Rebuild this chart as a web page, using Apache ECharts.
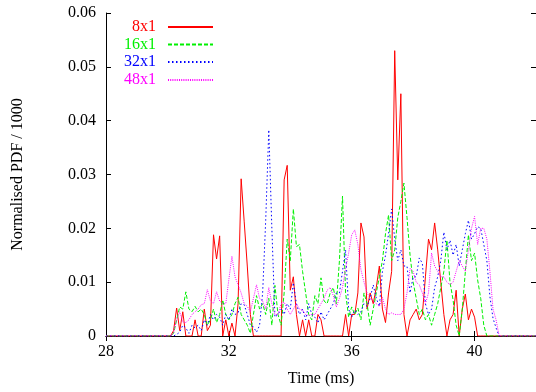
<!DOCTYPE html>
<html>
<head>
<meta charset="utf-8">
<script src="https://cdn.jsdelivr.net/npm/echarts@6/dist/echarts.min.js"></script>
<style>
html,body{margin:0;padding:0;background:#fff;}
#chart{width:536px;height:392px;}
</style>
</head>
<body>
<div id="chart"></div>
<script>
// time axis sample points (ms)
var times = [28,
30.0,30.1,30.2,30.3,30.4,30.5,30.6,30.7,30.8,30.9,
31.0,31.1,31.2,31.3,31.4,31.5,31.6,31.7,31.8,31.9,
32.0,32.1,32.2,32.3,32.4,32.5,32.6,32.7,32.8,32.9,
33.0,33.1,33.2,33.3,33.4,33.5,33.6,33.7,33.8,33.9,
34.0,34.1,34.2,34.3,34.4,34.5,34.6,34.7,34.8,34.9,
35.0,35.1,35.2,35.3,35.4,35.5,35.6,35.7,35.8,35.9,
36.0,36.1,36.2,36.3,36.4,36.5,36.6,36.7,36.8,36.9,
37.0,37.1,37.2,37.3,37.4,37.5,37.6,37.7,37.8,37.9,
38.0,38.1,38.2,38.3,38.4,38.5,38.6,38.7,38.8,38.9,
39.0,39.1,39.2,39.3,39.4,39.5,39.6,39.7,39.8,39.9,
40.0,40.1,40.2,40.3,40.4,40.5,40.6,40.7,40.8,40.9,
41.0,42];

var names = ['8x1','16x1','32x1','48x1'];

var pdf8x1 = [0,
0,0,0.001,0.0052,0.001,0.0045,0,0,0,0.003,
0,0,0.005,0.001,0.002,0.0188,0.0143,0.0186,0,0.003,
0,0.0024,0,0.006,0.0292,0.0212,0.013,0.004,0,0,
0,0,0,0,0,0,0,0,0.029,0.0317,
0.0085,0.011,0.004,0,0.003,0,0.003,0,0,0.004,
0.003,0,0,0,0,0,0,0,0.004,0,
0.004,0.004,0.008,0.021,0.0184,0.005,0.008,0.006,0.009,0.013,
0.005,0.0025,0.008,0.012,0.053,0.029,0.045,0.004,0,0.003,
0.004,0.005,0.003,0.004,0.011,0.018,0.016,0.021,0.016,0.01,
0.004,0,0.003,0.004,0.0085,0,0.005,0.0078,0.003,0.005,
0.0035,0,0,0,0,0,0,0,0,0,
0,0];

var pdf16x1 = [0,
0,0,0.0005,0.003,0.0054,0.005,0.0082,0.005,0.0045,0.0055,
0.0045,0.005,0.004,0.002,0.003,0.005,0.0025,0.004,0.0067,0.004,
0.003,0.004,0.006,0.0072,0.004,0.003,0.002,0.0005,0.004,0.0075,
0.005,0.006,0.004,0.007,0.002,0.0094,0.004,0.002,0.008,0.018,
0.014,0.0236,0.0166,0.017,0.012,0.008,0.004,0.003,0.0075,0.006,
0.0108,0.0065,0.006,0.008,0.009,0.006,0.014,0.026,0.008,0.0035,
0.0054,0.004,0.0052,0.003,0.008,0.006,0.002,0.005,0.008,0.011,
0.014,0.019,0.0225,0.014,0.016,0.022,0.025,0.0284,0.022,0.015,
0.01,0.007,0.004,0.005,0.003,0.004,0.002,0.004,0.006,0.009,
0.012,0.0178,0.01,0.0067,0.002,0,0.005,0.012,0.0188,0.014,
0.0154,0.0104,0.007,0.002,0,0,0,0,0,0,
0,0];

var pdf32x1 = [0,
0,0,0,0.0003,0.0007,0.002,0.0015,0.0005,0.002,0.0015,
0.002,0.001,0.003,0.002,0.004,0.003,0.004,0.0035,0.002,0.004,
0.003,0.005,0.004,0.0043,0.006,0.0058,0.004,0.002,0.0017,0.0007,
0.002,0.008,0.0215,0.0383,0.02,0.0035,0.004,0.005,0.004,0.006,
0.005,0.0099,0.006,0.004,0.005,0.003,0.006,0.004,0.0035,0.0024,
0.0045,0.003,0.004,0.005,0.006,0.008,0.008,0.012,0.016,0.005,
0.0035,0.0048,0.004,0.0045,0.006,0.0055,0.007,0.0095,0.007,0.0055,
0.012,0.015,0.019,0.0236,0.018,0.014,0.016,0.013,0.013,0.008,
0.011,0.011,0.0145,0.0135,0.006,0.004,0.005,0.009,0.011,0.014,
0.0193,0.016,0.0178,0.015,0.017,0.013,0.016,0.019,0.0215,0.018,
0.019,0.0203,0.02,0.017,0.014,0.0073,0.0033,0.0015,0,0,
0,0];

var pdf48x1 = [0,
0,0,0.0006,0.003,0.0045,0.0026,0.0025,0.003,0.004,0.0045,
0.005,0.0058,0.006,0.0086,0.0065,0.006,0.0082,0.0065,0.006,0.006,
0.0105,0.0148,0.011,0.0095,0.008,0.006,0.0055,0.0045,0.007,0.0095,
0.007,0.0065,0.005,0.009,0.006,0.004,0.004,0.006,0.0063,0.005,
0.004,0.005,0.006,0.005,0.0048,0.004,0.0038,0.004,0.004,0.005,
0.006,0.007,0.0085,0.009,0.0075,0.0054,0.007,0.009,0.0125,0.0154,
0.0188,0.0197,0.017,0.0123,0.01,0.008,0.007,0.0065,0.006,0.0055,
0.0072,0.005,0.004,0.0043,0.004,0.004,0.004,0.005,0.008,0.0126,
0.012,0.01,0.0095,0.008,0.006,0.008,0.0154,0.013,0.012,0.011,
0.011,0.01,0.0095,0.01,0.012,0.014,0.013,0.012,0.016,0.02,
0.0222,0.017,0.02,0.02,0.018,0.012,0.005,0.003,0,0,
0,0];

var seriesValues = [pdf8x1, pdf16x1, pdf32x1, pdf48x1];
var colors = ['#ff0000', '#00f000', '#0000ff', '#ff00ff'];
var dashes = ['solid', [4, 2], [1.5, 2.5], [1, 1.2]];
var legendTops = [19, 36.5, 54, 72];
var FONT = 'Liberation Serif';

function pairs(vals) {
  return times.map(function (t, i) { return [t, vals[i]]; });
}

var series = names.map(function (n, i) {
  return {
    name: n, type: 'line', xAxisIndex: 0, yAxisIndex: 0,
    data: pairs(seriesValues[i]),
    symbol: 'none', showSymbol: false,
    lineStyle: { color: colors[i], width: 1, type: dashes[i] },
    itemStyle: { color: colors[i] },
    z: 2 + i
  };
});

var legends = names.map(function (n, i) {
  return {
    data: [n], orient: 'vertical', right: 322, top: legendTops[i],
    padding: 0, align: 'right', selectedMode: false,
    itemWidth: 45, itemHeight: 10,
    itemStyle: { opacity: 0 },
    textStyle: { color: colors[i], fontFamily: FONT, fontSize: 16, padding: [0, 7, 0, 0] }
  };
});

var axisLine = { show: true, lineStyle: { color: '#000', width: 1 } };
var tick = { show: true, inside: true, length: 5, lineStyle: { color: '#000' } };

var chart = echarts.init(document.getElementById('chart'), null, { renderer: 'canvas' });
chart.setOption({
  animation: false,
  backgroundColor: '#fff',
  textStyle: { fontFamily: FONT },
  legend: legends,
  grid: { left: 106, top: 13, right: -2, bottom: 56, containLabel: false },
  xAxis: [{
    type: 'value', min: 28, max: 42, interval: 4, position: 'bottom',
    name: 'Time (ms)', nameLocation: 'middle', nameGap: 35,
    nameTextStyle: { fontFamily: FONT, fontSize: 16, color: '#000' },
    axisLine: axisLine, axisTick: tick, splitLine: { show: false },
    axisLabel: { color: '#000', fontFamily: FONT, fontSize: 16, margin: 8, showMaxLabel: false }
  }, {
    type: 'value', min: 28, max: 42, interval: 4, position: 'top',
    axisLine: axisLine, axisTick: tick, splitLine: { show: false },
    axisLabel: { show: false }
  }],
  yAxis: [{
    type: 'value', min: 0, max: 0.06, interval: 0.01, position: 'left',
    name: 'Normalised PDF / 1000', nameLocation: 'middle', nameGap: 80,
    nameTextStyle: { fontFamily: FONT, fontSize: 16, color: '#000' },
    axisLine: axisLine, axisTick: tick, splitLine: { show: false },
    axisLabel: { color: '#000', fontFamily: FONT, fontSize: 16, margin: 10 }
  }, {
    type: 'value', min: 0, max: 0.06, interval: 0.01, position: 'right',
    axisLine: axisLine, axisTick: tick, splitLine: { show: false },
    axisLabel: { show: false }
  }],
  series: series
});
</script>
</body>
</html>
